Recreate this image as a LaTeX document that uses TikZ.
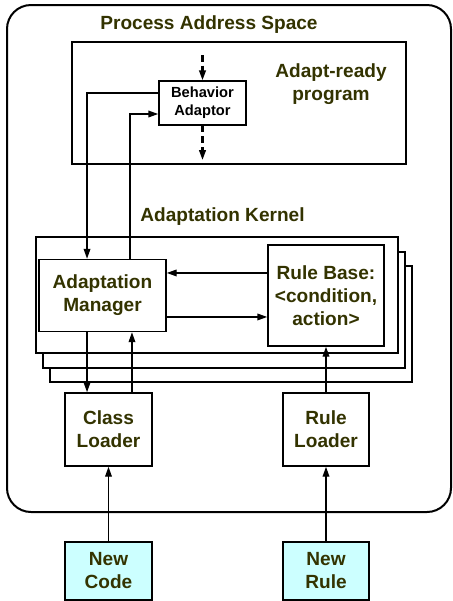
\documentclass[tikz,border=0pt]{standalone}
\usepackage{fontspec}
\setmainfont{Liberation Sans}
\usetikzlibrary{arrows.meta}
\definecolor{labelOlive}{RGB}{51,51,0}
\definecolor{newCyan}{RGB}{204,255,255}
\newcommand{\bigLabel}{\fontsize{14.3}{17.25}\selectfont\bfseries}
\newcommand{\smallLabel}{\fontsize{11}{13.5}\selectfont\bfseries}
\tikzset{
  compBox/.style={draw, line width=1.1pt, fill=white, align=center, text=labelOlive, font=\bigLabel, inner sep=0pt},
  newBox/.style={compBox, fill=newCyan},
  kernelBox/.style={draw, line width=1.5pt, fill=white, minimum width=271.5pt, minimum height=87pt, inner sep=0pt},
  titleText/.style={font=\bigLabel, text=labelOlive, align=center},
  flow/.style={-{Triangle[length=7.5pt,width=5pt]}, line width=1.1pt},
}
\begin{document}
\begin{tikzpicture}[x=0.75pt, y=-0.75pt]
\useasboundingbox[fill=white] (0,0) rectangle (453,601);

\node[draw, line width=1.5pt, rounded corners=18pt, minimum width=333pt, minimum height=380.25pt] (procSpace) at (229,258.5) {};
\node[titleText, anchor=base] (procTitle) at (209,29) {Process Address Space};

% adapt-ready program
\node[draw, line width=2pt, minimum width=250.5pt, minimum height=91.5pt] (program) at (239,103) {};
\node[titleText] (programTitle) at (331,84) {Adapt-ready\\program};
\node[compBox, font=\smallLabel, text=black, minimum width=65.25pt, minimum height=33pt] (adaptor) at (202.5,103) {Behavior\\Adaptor};
\coordinate (flowIn) at (202.5,55);
\coordinate (flowOut) at (202.5,160);

% adaptation kernel
\node[titleText, anchor=base] (kernelTitle) at (222.5,221) {Adaptation Kernel};
\foreach \k/\dx/\dy in {2/14/29, 1/7/15, 0/0/0}
  \node[kernelBox] (kernel\k) at (217+\dx,295+\dy) {};
\node[compBox, minimum width=95.25pt, minimum height=54pt] (manager) at (102.5,295.5) {Adaptation\\Manager};
\node[compBox, minimum width=87pt, minimum height=75.75pt] (ruleBase) at (326,295.5) {Rule Base:\\<condition,\\action>};

% loaders
\node[compBox, minimum width=65.25pt, minimum height=54.75pt] (classLoader) at (108.5,429.5) {Class\\Loader};
\node[compBox, minimum width=64.5pt, minimum height=54.75pt] (ruleLoader) at (326,429.5) {Rule\\Loader};
\node[newBox, minimum width=65.25pt, minimum height=43.5pt] (newCode) at (108.5,571) {New\\Code};
\node[newBox, minimum width=64.5pt, minimum height=43.5pt] (newRule) at (326,571) {New\\Rule};

\draw[flow, line width=1.6pt, dash pattern=on 5pt off 3pt] (flowIn) -- (adaptor);
\draw[flow, line width=1.6pt, dash pattern=on 5pt off 3pt] (adaptor) -- (flowOut);
\draw[flow] ([yshift=7.5pt]adaptor.west) -| ([xshift=-11.6pt]manager.north);
\draw[flow] ([xshift=20.6pt]manager.north) |- ([yshift=-8.25pt]adaptor.west);
\draw[flow] ([yshift=16.9pt]ruleBase.west) -- ([yshift=16.9pt]ruleBase.west -| manager.east);
\draw[flow] ([yshift=-16.1pt]manager.east) -- ([yshift=-16.1pt]manager.east -| ruleBase.west);
\draw[flow] ([xshift=-11.6pt]manager.south) -- ([xshift=-11.6pt]manager.south |- classLoader.north);
\draw[flow] ([xshift=17.6pt]classLoader.north) -- ([xshift=17.6pt]classLoader.north |- manager.south);
\draw[flow] (ruleLoader) -- (ruleBase);
\draw[flow] (newCode) -- (classLoader);
\draw[flow] (newRule) -- (ruleLoader);
\end{tikzpicture}
\end{document}
